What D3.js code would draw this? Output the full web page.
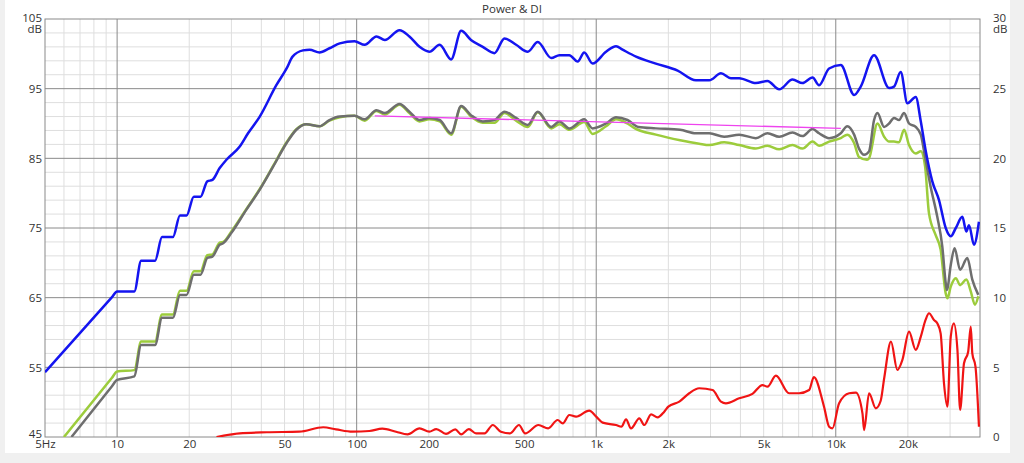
<!DOCTYPE html>
<html>
<head>
<meta charset="utf-8">
<script src="https://cdn.jsdelivr.net/npm/d3@7"></script>
<style>
  body { margin: 0; background: #f0f0f0; }
  #chart { position: absolute; left: 5px; top: 0; width: 1005px; height: 453px; background: #fff; }
  svg { position: absolute; left: 0; top: 0; }
  text { font-family: "Open Sans", "Noto Sans", sans-serif; font-size: 11.5px; fill: #333; }
</style>
</head>
<body>
<div id="chart"></div>
<svg id="plot"></svg>
<script>
// Frequency axis labels
var freqTicks = [5, 10, 20, 50, 100, 200, 500, 1000, 2000, 5000, 10000, 20000];
var freqLabels = ["5Hz", "10", "20", "50", "100", "200", "500", "1k", "2k", "5k", "10k", "20k"];

// Left (SPL) and right (DI) axis ticks
var dbTicks = [45, 55, 65, 75, 85, 95, 105];
var diTicks = [0, 5, 10, 15, 20, 25, 30];

// Blue curve [Hz, dB]
var blueCurve = [[5,54.3],[9.5,65.04],[10,65.9],[11.8,65.9],[12.6,70.3],[14.4,70.3],[15.4,73.7],[17.1,73.7],[18.3,76.8],
  [19.5,76.8],[20.9,79.5],[22.3,79.5],[23.8,81.7],[25,81.9],[26.8,83.6],[28.6,84.8],[32.5,86.7],[35.2,88.6],
  [39.4,91],[46.2,95.5],[51,97.9],[54,99.6],[59.7,100.5],[63.6,100.6],[70,100.2],[77,100.8],[85,101.5],
  [98,101.8],[108,101.3],[121,102.5],[131,102],[151,103.4],[166,102.5],[183,101],[201,100.3],[222,101.3],
  [248,99.2],[273,103.3],[300,102],[336,101],[376,100.1],[414,102.2],[463,101.3],[518,100.3],[570,101.7],
  [649,99.4],[702,99.8],[772,99.8],[837,98.9],[891,100.2],[966,98.6],[1099,100.3],[1210,101.1],[1288,100.6],
  [1466,99.6],[1774,98.6],[2187,97.6],[2607,96.2],[2964,96.2],[3317,97.2],[3649,96.5],[3952,96.5],[4636,95.8],
  [5187,96.1],[5806,94.9],[6600,96.3],[7260,95.8],[8000,96.6],[8517,95.5],[9380,97.9],[10494,98.4],[11927,94.1],
  [12712,95.3],[14450,99.8],[16690,95.1],[17500,95.3],[18664,97.4],[19905,92.9],[21560,93.8],[22645,90.3],
  [23700,86.2],[25290,81.7],[26975,79],[28770,75],[30200,73.8],[31700,75],[33760,76.6],[35080,74.5],
  [35990,75.4],[37750,72.6],[39600,75.9]];

// Grey curve [Hz, dB]
var greyCurve = [[6.45,45],[9.5,52.25],[10,53.2],[11.8,53.7],[12.6,58.2],[14.4,58.2],[15.4,62.1],[17.1,62.1],[18.3,65.4],
  [19.5,65.4],[20.9,68.3],[22.3,68.3],[23.8,70.7],[25,70.9],[26.8,72.6],[27.7,72.8],[30,74.3],[34.6,77.6],
  [39.4,80.5],[44.8,83.8],[51,87.2],[56,89.1],[61.6,89.9],[70,89.6],[77,90.5],[85,91],[98,91.1],[108,90.6],
  [121,91.9],[131,91.5],[151,92.8],[166,91.7],[183,90.5],[201,90.8],[222,90.5],[248,88.6],[273,92.5],
  [300,91.2],[336,90.3],[376,90.5],[414,91.7],[463,90.8],[518,89.8],[570,91.7],[649,89.5],[702,90.3],
  [772,89.3],[891,90.6],[966,89.3],[1099,90],[1210,90.9],[1350,90.5],[1500,89.5],[1774,89.3],[2240,89.1],
  [2607,88.6],[2964,88.6],[3420,88.1],[3952,88.4],[4636,87.9],[5187,88.6],[5806,88.1],[6600,88.7],[7260,88.2],
  [8000,89.2],[8517,88.6],[9380,87.9],[10494,88.6],[11170,89.6],[11927,88.4],[12500,86.4],[13130,85.5],
  [13770,86],[14450,90.5],[14930,91.5],[15920,89.5],[16690,90],[17500,90.8],[18370,90.5],[19280,91.5],
  [20220,90],[21560,89.5],[22645,88.4],[23500,85.5],[24900,80.9],[26530,76.6],[27850,72.3],[28770,67.1],
  [29100,66.1],[30200,69.7],[31330,72.1],[33040,69],[35400,70.7],[37150,67.6],[39350,65.4]];

// Green curve [Hz, dB]
var greenCurve = [[6.0,45],[9.5,53.46],[10,54.4],[11.8,54.6],[12.6,58.7],[14.4,58.7],[15.4,62.6],[17.1,62.6],[18.3,66],
  [19.5,66],[20.9,68.8],[22.3,68.8],[23.8,71.1],[25,71.2],[26.8,72.9],[27.7,73],[30,74.5],[34.6,77.7],
  [39.4,80.6],[44.8,83.9],[51,87.3],[56,89.2],[61.6,89.9],[70,89.6],[77,90.4],[85,90.9],[98,91.1],[108,90.4],
  [121,91.8],[131,91.3],[151,92.7],[166,91.5],[183,90.3],[201,90.6],[222,90.3],[248,88.4],[273,92.4],
  [300,91],[336,90.1],[376,90.1],[414,91.5],[463,90.4],[518,89.5],[570,91.6],[649,89.3],[702,89.9],
  [772,89.1],[891,90.2],[966,88.5],[1099,89.6],[1210,90.6],[1350,90],[1450,89.3],[1774,88.4],[2240,87.6],
  [2690,87.1],[2964,86.9],[3420,87.3],[3952,86.9],[4636,86.4],[5187,86.8],[5806,86.3],[6600,86.9],[7260,86.4],
  [8000,87.4],[8517,86.8],[9380,87.4],[10494,87.9],[11170,88.4],[11927,87.2],[12500,85.2],[13500,84.8],
  [13770,85],[14930,90],[15920,88.1],[16690,87.4],[17500,87.4],[18370,87.3],[19280,89.1],[20220,86.9],
  [21560,85.7],[22645,86],[23600,83.8],[24500,77.1],[26100,74],[27400,71.9],[28770,65.6],[29240,64.9],
  [30200,66.6],[31700,67.8],[33040,66.8],[35080,67.6],[36600,65.9],[38100,64],[39350,65.2]];

// Magenta target line [Hz, dB]
var targetLine = [[119,91.1],[10500,89.3]];

// Red DI curve [Hz, dB] on right axis
var diCurve = [[26,0],[32.5,0.26],[42.2,0.34],[57.6,0.38],[72.5,0.7],[82,0.55],[96,0.38],[113,0.43],[128,0.6],
  [146,0.38],[163,0.19],[183,0.62],[201,0.38],[215,0.57],[236,0.22],[258,0.55],[273,0.19],[294,0.57],[315,0.26],
  [342,0.26],[370,0.86],[400,0.38],[437,0.26],[476,0.86],[505,0.26],[574,0.86],[630,0.62],[690,1.22],[725,0.98],
  [772,1.58],[824,1.46],[935,1.89],[1000,1.46],[1064,1.03],[1210,0.86],[1274,0.74],[1332,1.27],[1397,0.62],
  [1513,1.34],[1588,0.86],[1694,1.63],[1804,1.41],[1923,1.82],[2000,2.18],[2223,2.54],[2445,3.14],[2690,3.5],
  [3061,3.37],[3317,2.54],[3477,2.42],[3952,2.78],[4488,3.09],[4942,3.73],[5187,3.61],[5623,4.4],[6385,3.14],
  [7030,3.14],[7743,3.37],[8100,4.3],[8930,2.18],[9380,0.74],[9685,0.62],[10327,2.42],[11373,3.14],[12130,3.18],
  [12925,1.7],[13130,0.5],[13770,3.14],[14690,2.06],[15400,2.6],[15920,4.2],[17000,6.84],[18075,4.81],
  [18970,5.53],[20220,7.56],[21560,6.25],[22645,7.2],[23700,8.4],[24500,8.88],[25700,8.4],[26530,8.16],
  [27400,7.44],[28300,3.85],[29240,2.18],[30200,7.2],[31100,8.16],[32200,6.25],[33040,1.94],[34300,5.29],
  [35700,6.12],[36600,7.92],[37150,6.0],[38300,5.05],[39600,0.74]];

// Layout
var svgWidth = 1024;
var svgHeight = 463;
var plot = { left: 45, right: 980, top: 19, bottom: 437 };

var svg = d3.select("#plot")
    .attr("width", svgWidth)
    .attr("height", svgHeight);

// Scales
var x = d3.scaleLog().domain([5, 40000]).range([plot.left, plot.right]);
var y = d3.scaleLinear().domain([45, 105]).range([plot.bottom, plot.top]);
var yDI = d3.scaleLinear().domain([0, 30]).range([plot.bottom, plot.top]);

// Grid lines
var minorFreqs = [];
[1, 10, 100, 1000, 10000].forEach(function(dec) {
    for (var m = 2; m < 10; m++) {
        var f = m * dec;
        if (f > 5 && f < 40000) minorFreqs.push(f);
    }
});
var majorFreqs = [10, 100, 1000, 10000];
var minorDb = d3.range(47, 105, 2).filter(function(d) { return (d - 45) % 10 !== 0; });
var majorDb = [55, 65, 75, 85, 95];

var grid = svg.append("g");

grid.selectAll(".vminor").data(minorFreqs).enter().append("line")
    .attr("x1", d => x(d)).attr("x2", d => x(d))
    .attr("y1", plot.top).attr("y2", plot.bottom)
    .attr("stroke", "#dedede").attr("stroke-width", 1);

grid.selectAll(".hminor").data(minorDb).enter().append("line")
    .attr("x1", plot.left).attr("x2", plot.right)
    .attr("y1", d => y(d)).attr("y2", d => y(d))
    .attr("stroke", "#dedede").attr("stroke-width", 1);

grid.selectAll(".vmajor").data(majorFreqs).enter().append("line")
    .attr("x1", d => x(d)).attr("x2", d => x(d))
    .attr("y1", plot.top).attr("y2", plot.bottom)
    .attr("stroke", "#8a8a8a").attr("stroke-width", 1);

grid.selectAll(".hmajor").data(majorDb).enter().append("line")
    .attr("x1", plot.left).attr("x2", plot.right)
    .attr("y1", d => y(d)).attr("y2", d => y(d))
    .attr("stroke", "#8a8a8a").attr("stroke-width", 1);

grid.append("rect")
    .attr("x", plot.left).attr("y", plot.top)
    .attr("width", plot.right - plot.left)
    .attr("height", plot.bottom - plot.top)
    .attr("fill", "none")
    .attr("stroke", "#8a8a8a");

// Curves
svg.append("clipPath").attr("id", "clip").append("rect")
    .attr("x", plot.left).attr("y", plot.top)
    .attr("width", plot.right - plot.left)
    .attr("height", plot.bottom - plot.top);

var curves = svg.append("g").attr("clip-path", "url(#clip)");

var dbLine = d3.line()
    .x(d => x(d[0]))
    .y(d => y(d[1]))
    .curve(d3.curveMonotoneX);

var diLine = d3.line()
    .x(d => x(d[0]))
    .y(d => yDI(d[1]))
    .curve(d3.curveMonotoneX);

curves.append("path").datum(greenCurve)
    .attr("d", dbLine).attr("fill", "none")
    .attr("stroke", "#9ccc3c").attr("stroke-width", 2.5);

curves.append("path").datum(greyCurve)
    .attr("d", dbLine).attr("fill", "none")
    .attr("stroke", "#6e6e6e").attr("stroke-width", 2.5);

curves.append("path").datum(targetLine)
    .attr("d", dbLine).attr("fill", "none")
    .attr("stroke", "#ee44ee").attr("stroke-width", 1.3);

curves.append("path").datum(blueCurve)
    .attr("d", dbLine).attr("fill", "none")
    .attr("stroke", "#1414f0").attr("stroke-width", 2.5);

curves.append("path").datum(diCurve)
    .attr("d", diLine).attr("fill", "none")
    .attr("stroke", "#f01414").attr("stroke-width", 2.2);

// Axes
var bottomAxis = d3.axisBottom(x)
    .tickValues(freqTicks)
    .tickFormat((d, i) => freqLabels[i])
    .tickSize(0)
    .tickPadding(3);

var leftAxis = d3.axisLeft(y)
    .tickValues(dbTicks)
    .tickSize(0)
    .tickPadding(3);

var rightAxis = d3.axisRight(yDI)
    .tickValues(diTicks)
    .tickSize(0)
    .tickPadding(13);

var xAxisG = svg.append("g")
    .attr("transform", `translate(0, ${plot.bottom})`)
    .call(bottomAxis);

var yAxisG = svg.append("g")
    .attr("transform", `translate(${plot.left}, 0)`)
    .call(leftAxis);

var y2AxisG = svg.append("g")
    .attr("transform", `translate(${plot.right}, 0)`)
    .call(rightAxis);

[xAxisG, yAxisG, y2AxisG].forEach(function(g) {
    g.select(".domain").remove();
    g.selectAll("text")
        .style("font-family", "'Open Sans', 'Noto Sans', sans-serif")
        .style("font-size", "11.5px")
        .attr("fill", "#333");
});

// Bottom-left "45" sits a little above the "5Hz" label
yAxisG.selectAll("text").filter(d => d === 45).attr("y", -3);

// Top labels carry the "dB" unit on a second line
function addUnit(sel) {
    sel.each(function(d) {
        var t = d3.select(this);
        var xPos = t.attr("x");
        t.text(null).attr("y", -1.5);
        t.append("tspan").attr("x", xPos).text(d);
        t.append("tspan").attr("x", xPos).attr("dy", "1.0em").text("dB");
    });
}
addUnit(yAxisG.selectAll("text").filter(d => d === 105));
addUnit(y2AxisG.selectAll("text").filter(d => d === 30));

// Title
svg.append("text")
    .attr("x", 512).attr("y", 12.5)
    .attr("text-anchor", "middle")
    .text("Power & DI");
</script>
</body>
</html>
